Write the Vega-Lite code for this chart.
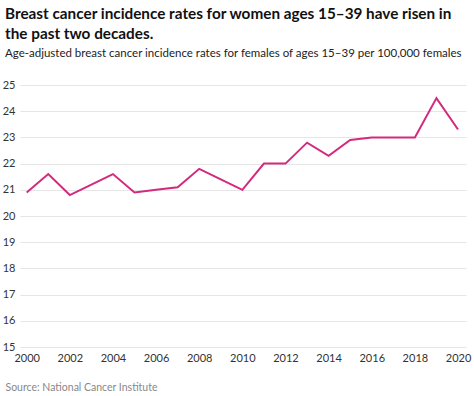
{
  "$schema": "https://vega.github.io/schema/vega-lite/v6.json",
  "width": 446,
  "height": 262,
  "autosize": {"type": "none"},
  "padding": {"left": 20, "top": 85, "right": 8, "bottom": 49},
  "background": "white",
  "title": {
    "text": ["Breast cancer incidence rates for women ages 15–39 have risen in", "the past two decades."],
    "subtitle": "Age-adjusted breast cancer incidence rates for females of ages 15–39 per 100,000 females",
    "anchor": "start",
    "frame": "group",
    "dx": -15,
    "offset": 19,
    "font": "Lato",
    "fontSize": 15.3,
    "fontWeight": "bold",
    "color": "#111111",
    "lineHeight": 20,
    "subtitleFont": "Lato",
    "subtitleFontSize": 11.5,
    "subtitleColor": "#222222",
    "subtitlePadding": 6
  },
  "data": {
    "values": [
      {"year": 2000, "rate": 20.9},
      {"year": 2001, "rate": 21.6},
      {"year": 2002, "rate": 20.8},
      {"year": 2003, "rate": 21.2},
      {"year": 2004, "rate": 21.6},
      {"year": 2005, "rate": 20.9},
      {"year": 2006, "rate": 21.0},
      {"year": 2007, "rate": 21.1},
      {"year": 2008, "rate": 21.8},
      {"year": 2009, "rate": 21.4},
      {"year": 2010, "rate": 21.0},
      {"year": 2011, "rate": 22.0},
      {"year": 2012, "rate": 22.0},
      {"year": 2013, "rate": 22.8},
      {"year": 2014, "rate": 22.3},
      {"year": 2015, "rate": 22.9},
      {"year": 2016, "rate": 23.0},
      {"year": 2017, "rate": 23.0},
      {"year": 2018, "rate": 23.0},
      {"year": 2019, "rate": 24.5},
      {"year": 2020, "rate": 23.3}
    ]
  },
  "mark": {"type": "line", "color": "#d42a7d", "strokeWidth": 2},
  "encoding": {
    "x": {
      "field": "year",
      "type": "quantitative",
      "scale": {"domain": [1999.69, 2020.37], "nice": false, "zero": false},
      "axis": {
        "values": [2000, 2002, 2004, 2006, 2008, 2010, 2012, 2014, 2016, 2018, 2020],
        "format": "d",
        "grid": false,
        "domain": false,
        "ticks": false,
        "labelPadding": 5,
        "labelFont": "Lato",
        "labelFontSize": 11,
        "labelColor": "#333333",
        "title": "Source: National Cancer Institute",
        "titleFont": "Lato",
        "titleFontSize": 10.5,
        "titleFontWeight": "normal",
        "titleColor": "#888888",
        "titleAnchor": "start",
        "titleAlign": "left",
        "titleBaseline": "alphabetic",
        "titleX": -15,
        "titleY": 43
      }
    },
    "y": {
      "field": "rate",
      "type": "quantitative",
      "scale": {"domain": [15, 25], "nice": false, "zero": false},
      "axis": {
        "values": [15, 16, 17, 18, 19, 20, 21, 22, 23, 24, 25],
        "grid": true,
        "gridColor": "#e6e6e6",
        "domain": false,
        "ticks": false,
        "labelPadding": 5,
        "labelFont": "Lato",
        "labelFontSize": 11,
        "labelColor": "#333333",
        "title": null
      }
    }
  },
  "config": {"view": {"stroke": null}}
}
